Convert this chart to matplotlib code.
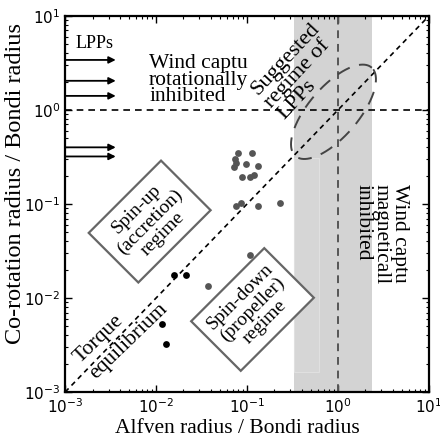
import numpy as np
import matplotlib
matplotlib.use("Agg")
import matplotlib.pyplot as plt
from matplotlib.patches import Rectangle

# ---- data ----
grey_x = [0.080, 0.113, 0.0738, 0.0757, 0.0975, 0.0719, 0.133, 0.0875, 0.108, 0.119,
          0.0757, 0.0853, 0.133, 0.231, 0.108, 0.0368]
grey_y = [0.351, 0.351, 0.299, 0.271, 0.267, 0.250, 0.254, 0.195, 0.195, 0.202,
          0.0952, 0.1017, 0.0952, 0.1017, 0.0287, 0.0134]
black_x = [0.0158, 0.0214, 0.01156, 0.0129]
black_y = [0.0176, 0.0176, 0.00525, 0.00322]
lpp_y = [3.4, 2.04, 1.41, 0.40, 0.32]
lpp_arrow_end = 0.0036
band = [0.33, 2.37]

serif = ['Liberation Serif', 'DejaVu Serif']

fig = plt.figure(figsize=(4.4, 4.41), dpi=100)
ax = fig.add_axes([0.148, 0.111, 0.827, 0.853])
ax.set_xscale('log')
ax.set_yscale('log')
ax.set_xlim(1e-3, 1e1)
ax.set_ylim(1e-3, 1e1)

# shaded band
ax.axvspan(band[0], band[1], color='#d3d3d3', lw=0, zorder=0)
ax.add_patch(Rectangle((0.33, 0.00163), 0.62 - 0.33, 0.308 - 0.00163,
                       facecolor='#d6d6d6', edgecolor='#e0e0e0', lw=0.8, zorder=0.5))

# guide lines
ax.axhline(1.0, color='black', ls=(0, (4, 3)), lw=1.2, zorder=2)
ax.axvline(1.0, color='#555555', ls=(0, (4, 3)), lw=1.4, zorder=2)
diag = np.array([1e-3, 1e1])
ax.plot(diag, diag, color='black', ls=(0, (3, 2.5)), lw=1.2, zorder=2)

# dashed ellipse (in log space)
t = np.linspace(0, 2 * np.pi, 400)
cx, cy, a, b, ang = -0.05, -0.02, 0.63, 0.27, np.deg2rad(48)
ex = cx + a * np.cos(t) * np.cos(ang) - b * np.sin(t) * np.sin(ang)
ey = cy + a * np.cos(t) * np.sin(ang) + b * np.sin(t) * np.cos(ang)
ax.plot(10 ** ex, 10 ** ey, color='#444444', ls=(0, (7, 5)), lw=1.4, zorder=2)

# data points
ax.plot(grey_x, grey_y, 'o', color='#555555', ms=4.9, mec='none', zorder=3)
ax.plot(black_x, black_y, 'o', color='black', ms=4.9, mec='none', zorder=3)

# LPP arrows
for yv in lpp_y:
    ax.annotate('', xy=(lpp_arrow_end, yv), xytext=(1e-3, yv),
                arrowprops=dict(arrowstyle='-|>', color='black', lw=1.3,
                                mutation_scale=10, shrinkA=0, shrinkB=0), zorder=3)

ax.text(0.00129, 5.1, 'LPPs', fontsize=13, family=serif, ha='left', va='center')
ax.text(0.00837, 2.08, 'Wind captu\nrotationally\ninhibited', fontsize=15.5, family=serif,
        ha='left', va='center', linespacing=0.8)
ax.text(0.372, 2.54, 'Suggested\nregime of\nLPPs', fontsize=16, family=serif,
        ha='center', va='center', rotation=47, linespacing=0.89, multialignment='left',
        rotation_mode='anchor')
ax.text(2.97, 0.048, 'Wind captu\nmagneticall\ninhibited', fontsize=15.5, family=serif,
        ha='center', va='center', rotation=270, linespacing=0.94, multialignment='left',
        rotation_mode='anchor')

box = dict(boxstyle='square,pad=0.45', fc='white', ec='#666666', lw=1.6)
ax.text(0.0085, 0.065, 'Spin-up\n(accretion)\nregime', fontsize=14, family=serif,
        ha='center', va='center', rotation=45, linespacing=1.05, bbox=box, zorder=4,
        rotation_mode='anchor')
ax.text(0.1148, 0.00755, 'Spin-down\n(propeller)\nregime', fontsize=14, family=serif,
        ha='center', va='center', rotation=45, linespacing=1.05, bbox=box, zorder=4,
        rotation_mode='anchor')
ax.text(0.00412, 0.00425, 'Torque\nequilibrium', fontsize=15.5, family=serif,
        ha='center', va='center', rotation=44, linespacing=1.2, multialignment='left',
        zorder=4, rotation_mode='anchor')

ax.set_xlabel('Alfven radius / Bondi radius', fontsize=15.5, family=serif, va='center')
ax.set_ylabel('Co-rotation radius / Bondi radius', fontsize=17.5, family=serif, va='center')
ax.xaxis.set_label_coords(0.473, -0.096)
ax.yaxis.set_label_coords(-0.135, 0.555)

for s in ax.spines.values():
    s.set_linewidth(1.6)
ax.tick_params(which='both', direction='in', top=True, right=True, labelsize=11)
ax.tick_params(which='major', length=5, width=1.0)
ax.tick_params(which='minor', length=2.5, width=0.8)

fig.savefig('out.png', dpi=100)
